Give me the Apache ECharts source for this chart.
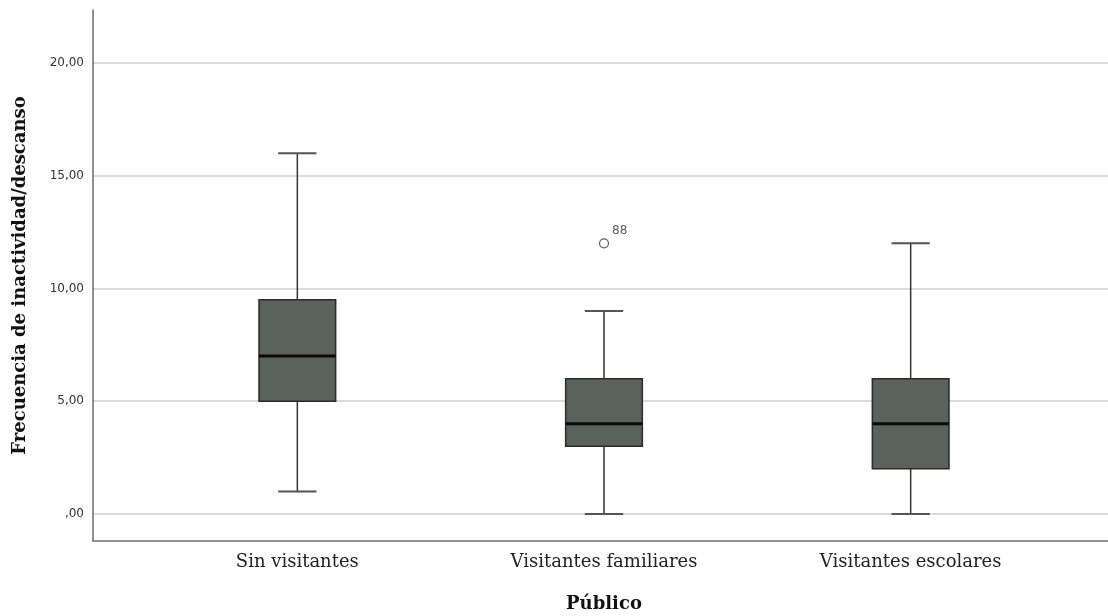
<!DOCTYPE html>
<html>
<head>
<meta charset="utf-8">
<script src="https://cdn.jsdelivr.net/npm/echarts@6/dist/echarts.min.js"></script>
<style>
  html, body { margin: 0; padding: 0; background: #fff; }
  #chart { width: 1108px; height: 616px; }
</style>
</head>
<body>
<div id="chart"></div>
<script>
// box plot data, read from the SPSS output
var categories = ['Sin visitantes', 'Visitantes familiares', 'Visitantes escolares'];
var mins    = [1, 0, 0];
var q1s     = [5, 3, 2];
var medians = [7, 4, 4];
var q3s     = [9.5, 6, 6];
var maxs    = [16, 9, 12];

// outliers: [category index, value, case id]
var outliers = [[1, 12, '88']];

var yMin = -1.2;
var yMax = 22.35;

var boxRows = [];
for (let i = 0; i < categories.length; i++) {
    boxRows.push([i, mins[i], q1s[i], medians[i], q3s[i], maxs[i]]);
}

function fmtTick(v) {
    var s = v.toFixed(2).replace('.', ',');
    if (s.indexOf('0,') === 0) s = s.substring(1);
    return s;
}

function renderBox(params, api) {
    const idx = api.value(0);
    const pMin = api.coord([idx, api.value(1)]);
    const pQ1 = api.coord([idx, api.value(2)]);
    const pMed = api.coord([idx, api.value(3)]);
    const pQ3 = api.coord([idx, api.value(4)]);
    const pMax = api.coord([idx, api.value(5)]);
    const band = api.size([1, 0])[0];
    const half = band * 0.125;
    const cap = half / 2;
    const x = pMed[0];
    const whisker = { stroke: '#333', lineWidth: 1.5 };
    const capStyle = { stroke: '#555', lineWidth: 2 };
    return {
        type: 'group',
        children: [
            { type: 'line', shape: { x1: x, y1: pMax[1], x2: x, y2: pQ3[1] }, style: whisker },
            { type: 'line', shape: { x1: x, y1: pQ1[1], x2: x, y2: pMin[1] }, style: whisker },
            { type: 'line', shape: { x1: x - cap, y1: pMax[1], x2: x + cap, y2: pMax[1] }, style: capStyle },
            { type: 'line', shape: { x1: x - cap, y1: pMin[1], x2: x + cap, y2: pMin[1] }, style: capStyle },
            {
                type: 'rect',
                shape: { x: x - half, y: pQ3[1], width: half * 2, height: pQ1[1] - pQ3[1] },
                style: { fill: '#59625b', stroke: '#2a2a2a', lineWidth: 1.5 }
            },
            { type: 'line', shape: { x1: x - half, y1: pMed[1], x2: x + half, y2: pMed[1] }, style: { stroke: '#0a0a0a', lineWidth: 3 } }
        ]
    };
}

var option = {
    animation: false,
    grid: [
        { left: 93, right: 0, top: 10, bottom: 75, outerBoundsMode: 'none' },
        { left: 144, right: 44, top: 10, bottom: 75, outerBoundsMode: 'none' }
    ],
    xAxis: [
        {
            gridIndex: 0,
            type: 'value',
            min: 0,
            max: 1,
            axisLine: { show: true, onZero: false, lineStyle: { color: '#6b6b6b', width: 1.5 } },
            axisTick: { show: false },
            axisLabel: { show: false },
            splitLine: { show: false }
        },
        {
            gridIndex: 1,
            type: 'category',
            data: categories,
            axisLine: { show: false, onZero: false },
            axisTick: { show: false },
            axisLabel: {
                margin: 12,
                color: '#222',
                fontFamily: 'DejaVu Serif',
                fontSize: 18
            },
            name: 'Público',
            nameLocation: 'middle',
            nameGap: 54,
            nameTextStyle: {
                color: '#111',
                fontFamily: 'DejaVu Serif',
                fontWeight: 'bold',
                fontSize: 18
            }
        }
    ],
    yAxis: [
        {
            gridIndex: 0,
            type: 'value',
            min: yMin,
            max: yMax,
            axisLine: { show: true, lineStyle: { color: '#6b6b6b', width: 1.5 } },
            axisTick: { show: false },
            axisLabel: {
                showMinLabel: false,
                showMaxLabel: false,
                margin: 9,
                color: '#333',
                fontFamily: 'DejaVu Sans',
                fontSize: 12,
                formatter: fmtTick
            },
            splitLine: {
                show: true,
                showMinLine: false,
                showMaxLine: false,
                lineStyle: { color: '#cfcfcf', width: 1.5 }
            },
            name: 'Frecuencia de inactividad/descanso',
            nameLocation: 'middle',
            nameGap: 64,
            nameTextStyle: {
                color: '#111',
                fontFamily: 'DejaVu Serif',
                fontWeight: 'bold',
                fontSize: 18
            }
        },
        {
            gridIndex: 1,
            type: 'value',
            min: yMin,
            max: yMax,
            show: false
        }
    ],
    series: [
        {
            type: 'custom',
            xAxisIndex: 1,
            yAxisIndex: 1,
            renderItem: renderBox,
            encode: { x: 0, y: [1, 2, 3, 4, 5] },
            data: boxRows
        },
        {
            type: 'scatter',
            xAxisIndex: 1,
            yAxisIndex: 1,
            symbol: 'circle',
            symbolSize: 9,
            itemStyle: { color: '#fff', borderColor: '#333', borderWidth: 1.2 },
            label: {
                show: true,
                position: 'right',
                offset: [-2, -12],
                color: '#333',
                fontFamily: 'DejaVu Sans',
                fontSize: 12,
                formatter: function(p) { return p.value[2]; }
            },
            data: outliers
        }
    ]
};

var chart = echarts.init(document.getElementById('chart'));
chart.setOption(option);
</script>
</body>
</html>
